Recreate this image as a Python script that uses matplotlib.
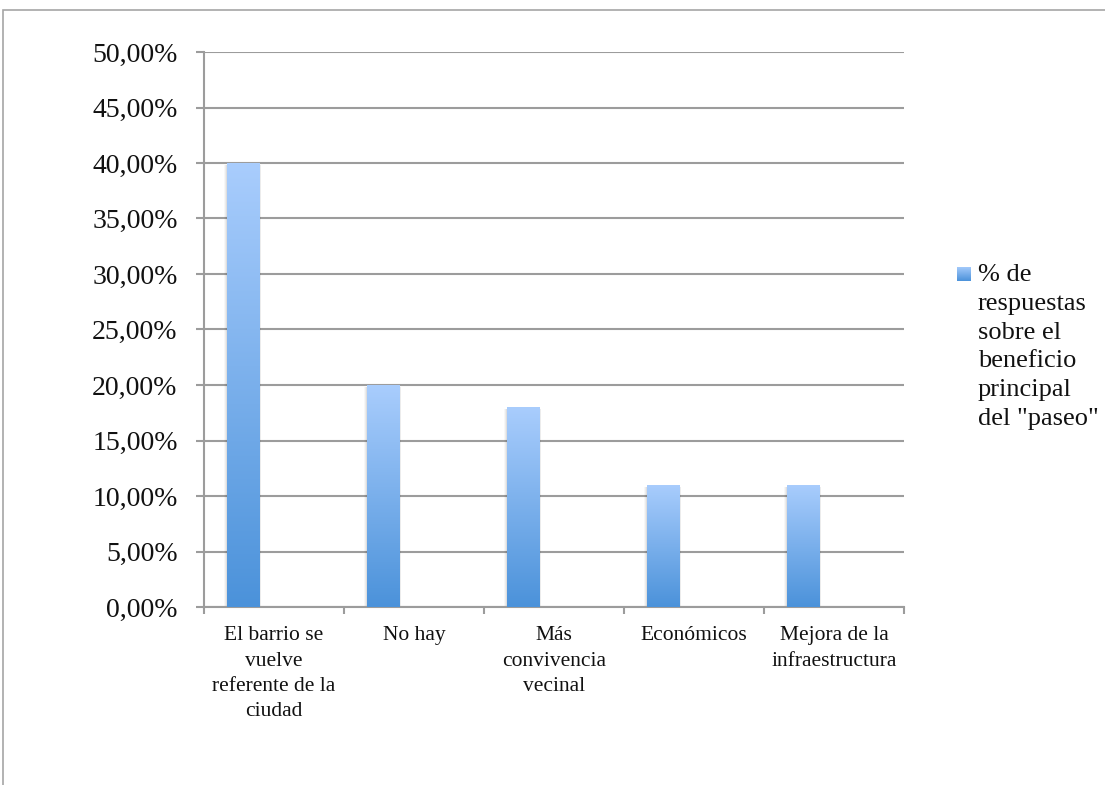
import matplotlib
matplotlib.use("Agg")
import matplotlib.pyplot as plt
import numpy as np
from matplotlib.colors import LinearSegmentedColormap
from matplotlib.patches import Rectangle
from matplotlib.ticker import FuncFormatter, MultipleLocator

# Survey results: main benefit of the "paseo"
categories = [
    "El barrio se\nvuelve\nreferente de la\nciudad",
    "No hay",
    "Más\nconvivencia\nvecinal",
    "Económicos",
    "Mejora de la\ninfraestructura",
]
values = [0.40, 0.20, 0.18, 0.11, 0.11]
series_label = '% de\nrespuestas\nsobre el\nbeneficio\nprincipal\ndel "paseo"'

FONT = "Liberation Serif"
GRID = "#9c9c9c"
W, H = 1105, 785

fig = plt.figure(figsize=(W / 100, H / 100), dpi=100)
fig.patch.set_facecolor("white")

# chart-area frame (only the top and left edges fall inside the image)
fig.patches.append(Rectangle((3 / W, -0.1), 1.2, 1.1 - 10 / H,
                             transform=fig.transFigure, fill=False,
                             edgecolor="#a6a6a6", linewidth=1.2, clip_on=False))

ax = fig.add_axes([204 / W, 178 / H, 700 / W, 555 / H])

grad_cmap = LinearSegmentedColormap.from_list("bar", ["#4b92da", "#a9cdfd"])
gradient = np.linspace(0, 1, 256).reshape(-1, 1)

bar_w = 0.23
offset = -0.2225
xs = np.arange(len(categories)) + offset
bars = ax.bar(xs, values, width=bar_w, color="none", edgecolor="none", zorder=3)

for rect in bars:
    x0 = rect.get_x()
    h = rect.get_height()
    # soft shadow along the sides of the bar
    for k, a in [(3, 0.03), (2, 0.045), (1, 0.06)]:
        dx = k * 0.006
        ax.add_patch(Rectangle((x0 - dx, 0.0), bar_w + 2 * dx, h - 0.002,
                               facecolor="#000000", alpha=a, edgecolor="none",
                               zorder=2.5))
    im = ax.imshow(gradient, extent=[x0, x0 + bar_w, 0, h], origin="lower",
                   cmap=grad_cmap, aspect="auto", zorder=3, interpolation="bilinear")
    im.set_clip_path(rect)

ax.set_xlim(-0.5, len(categories) - 0.5)
ax.set_ylim(0, 0.50)

# grid and axes
ax.yaxis.set_major_locator(MultipleLocator(0.05))
ax.yaxis.set_major_formatter(FuncFormatter(lambda v, p: f"{v * 100:.2f}%".replace(".", ",")))
ax.grid(axis="y", color=GRID, linewidth=1.5, zorder=1)
ax.set_axisbelow(True)
for s in ["top", "right"]:
    ax.spines[s].set_visible(False)
for s in ["left", "bottom"]:
    ax.spines[s].set_color(GRID)
    ax.spines[s].set_linewidth(1.5)

ax.tick_params(axis="y", length=6, width=1.5, color=GRID, pad=13,
               labelsize=20, labelcolor="#111111")
for lbl in ax.get_yticklabels():
    lbl.set_fontfamily(FONT)

# category boundaries as major ticks, names as minor-tick labels
ax.set_xticks(np.arange(-0.5, len(categories)))
ax.set_xticklabels([])
ax.set_xticks(np.arange(len(categories)), minor=True)
ax.set_xticklabels(categories, minor=True, fontfamily=FONT, fontsize=15.5,
                   color="#111111", linespacing=1.45)
ax.tick_params(axis="x", which="major", length=5, width=1.5, color=GRID)
ax.tick_params(axis="x", which="minor", length=0, pad=14)

# legend: gradient swatch plus wrapped label
sw = fig.add_axes([957 / W, 1 - 281 / H, 14 / W, 14 / H])
sw.imshow(gradient, origin="lower", cmap=grad_cmap, aspect="auto",
          extent=[0, 1, 0, 1], interpolation="bilinear")
sw.set_axis_off()
fig.text(978 / W, 1 - 264 / H, series_label, ha="left", va="top",
         fontfamily=FONT, fontsize=19, color="#111111", linespacing=1.4)

fig.savefig("out.png", dpi=100, facecolor="white")
